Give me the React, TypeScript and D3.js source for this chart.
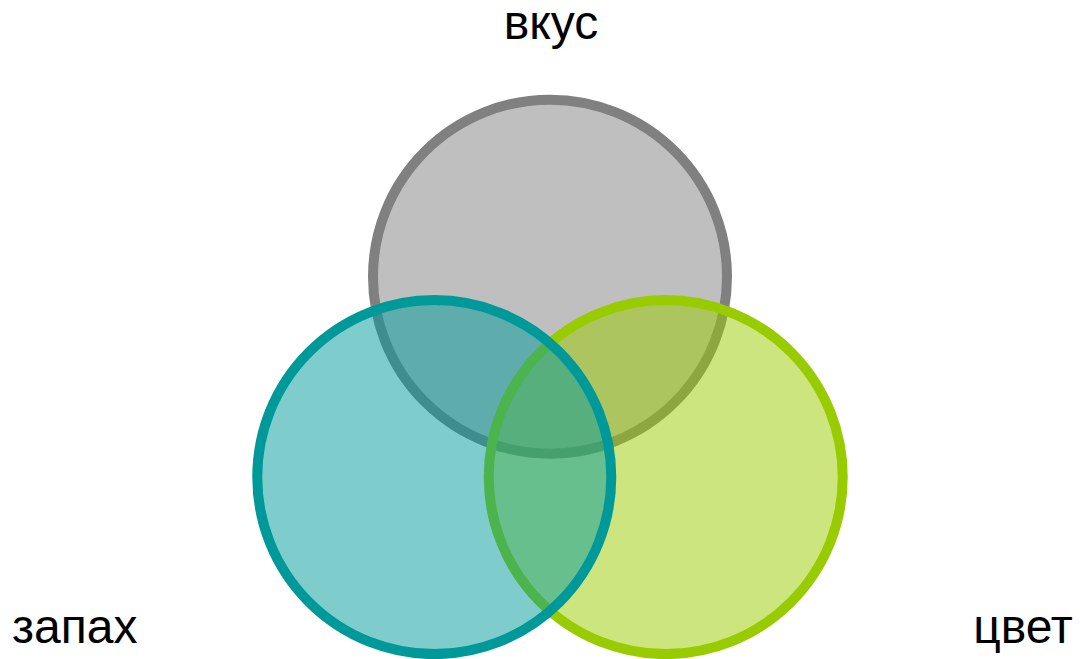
import React, { useEffect, useRef } from "react";
import * as d3 from "d3";

// sets in drawing order (top first, then right, then left lies on top)
const setNames = ["вкус", "цвет", "запах"];
const setColors = ["#808080", "#99cc00", "#009999"];
const setAngles = [-90, 30, 150]; // degrees, direction of each circle from the centre
const setRadius = [1, 1, 1];
const centerDistance = 0.755; // distance from centroid in radius units

const App = () => {
  const ref = useRef<SVGSVGElement>(null);

  useEffect(() => {
    draw();
  });

  const draw = () => {
    const width = 1080;
    const height = 659;
    const svg = d3.select(ref.current);
    svg.selectAll("*").remove();

    // unit space -> pixels
    const x = d3.scaleLinear().domain([-1, 1]).range([550 - 177, 550 + 177]);
    const y = d3.scaleLinear().domain([-1, 1]).range([410.3 - 177, 410.3 + 177]);

    const data = setNames.map((name, i) => {
      const a = (setAngles[i] * Math.PI) / 180;
      return {
        name,
        color: setColors[i],
        cx: centerDistance * Math.cos(a),
        cy: centerDistance * Math.sin(a),
        r: setRadius[i],
      };
    });

    svg
      .selectAll("circle")
      .data(data)
      .enter()
      .append("circle")
      .attr("cx", (d) => x(d.cx))
      .attr("cy", (d) => y(d.cy))
      .attr("r", (d) => x(d.r) - x(0))
      .attr("fill", (d) => d.color)
      .attr("fill-opacity", 0.5)
      .attr("stroke", (d) => d.color)
      .attr("stroke-width", 10);

    const label = svg
      .append("g")
      .attr("font-family", "Liberation Sans, Arial, sans-serif")
      .attr("font-size", 48)
      .attr("fill", "#000");

    label.append("text").attr("x", 551).attr("y", 39).attr("text-anchor", "middle").text(setNames[0]);
    label.append("text").attr("x", 12).attr("y", 643).attr("text-anchor", "start").text(setNames[2]);
    label.append("text").attr("x", 1023).attr("y", 643).attr("text-anchor", "middle").text(setNames[1]);

    svg.attr("width", width).attr("height", height);
  };

  return (
    <svg
      ref={ref}
      width={1080}
      height={659}
      style={{ position: "absolute", left: 0, top: 0, display: "block" }}
    />
  );
};

export default App;
